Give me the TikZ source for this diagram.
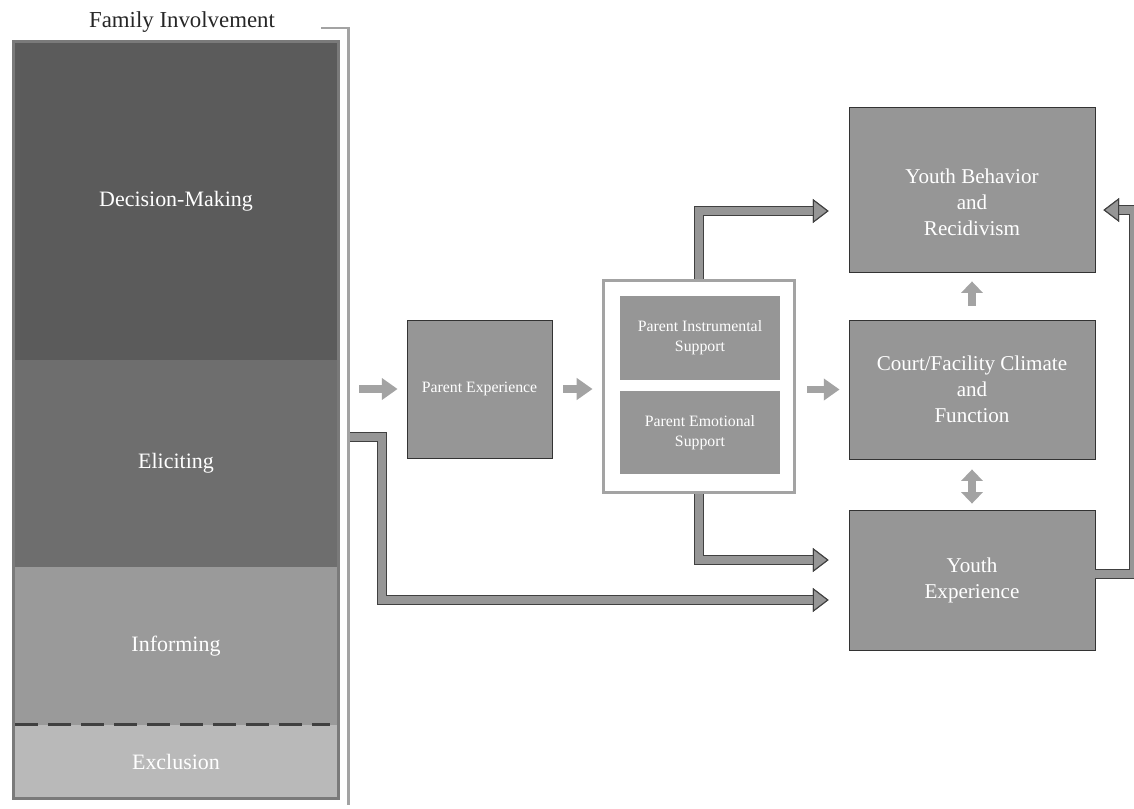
\documentclass[tikz,border=0pt]{standalone}
\usepackage{fontspec}
\setmainfont{Liberation Serif}
\usepackage{tikz}
\usetikzlibrary{positioning, arrows.meta}
\usepackage{xcolor}

\definecolor{dmgray}{HTML}{5B5B5B}
\definecolor{elgray}{HTML}{6E6E6E}
\definecolor{infgray}{HTML}{9A9A9A}
\definecolor{exgray}{HTML}{B9B9B9}
\definecolor{boxgray}{HTML}{969696}
\definecolor{rulegray}{HTML}{A3A3A3}
\definecolor{edgegray}{HTML}{7A7A7A}

\tikzset{
  level/.style={rectangle, minimum width=6.52cm, inner sep=0pt, outer sep=0pt,
    text=white, font=\fontsize{12.5}{15}\selectfont},
  box/.style={rectangle, draw=black!80, line width=0.5pt, fill=boxgray,
    text=white, align=center},
  bigbox/.style={box, minimum width=4.92cm, font=\fontsize{12}{14.8}\selectfont},
  smallbox/.style={box, font=\fontsize{9}{11.4}\selectfont},
  gaparrow/.style={draw=rulegray, line width=4pt,
    -{Triangle[length=9pt,width=12pt]}, shorten <=0.22cm, shorten >=0.18cm},
  vertarrow/.style={draw=rulegray, line width=4.4pt,
    -{Triangle[length=6.5pt,width=12pt]}},
  flow/.style={draw=boxgray, line width=4pt,
    preaction={draw=black!75, line width=5.2pt},
    -{Triangle[length=9pt,width=13.6pt,line width=0.6pt,color=black!75,fill=boxgray]}},
}

\begin{document}
\begin{tikzpicture}[x=0.02cm, y=-0.02cm]
  \useasboundingbox (0,0) rectangle (1134,809);

  % Levels of family involvement
  \node[level, fill=dmgray, minimum height=6.37cm] (dm) at (176,200.75) {Decision-Making};
  \node[level, fill=elgray, minimum height=4.14cm, below=0pt of dm] (el) {Eliciting};
  \node[level, fill=infgray, minimum height=3.16cm, below=0pt of el] (inf) {Informing};
  \node[level, fill=exgray, minimum height=1.47cm, below=0pt of inf] (exc) {Exclusion};
  \draw[edgegray, line width=1.7pt] (dm.north west) rectangle (exc.south east);
  \draw[black!75, line width=1.6pt, dash pattern=on 0.46cm off 0.2cm]
    ([xshift=0.04cm]exc.north west) -- ([xshift=-0.18cm]exc.north east);

  % Title and bracket
  \node[font=\fontsize{13}{15}\selectfont, text=black!85] (title) at (182,22) {Family Involvement};
  \coordinate (brTop) at (321,28);
  \coordinate (brBot) at (348.5,805);
  \draw[rulegray, line width=1.6pt] (brTop) -| (brBot);

  % Parent side
  \node[smallbox, minimum width=2.9cm, minimum height=2.76cm] (pe) at (479.5,389) {Parent Experience};
  \node[draw=rulegray, line width=1.7pt, fill=white, minimum width=3.84cm,
    minimum height=4.26cm] (supbox) at (699,386.5) {};
  \node[smallbox, draw=none, minimum width=3.2cm, minimum height=1.68cm] (pis) at (700,338)
    {Parent Instrumental\\Support};
  \node[smallbox, draw=none, minimum width=3.2cm, minimum height=1.66cm] (pes) at (700,432.5)
    {Parent Emotional\\Support};

  % Youth and court side
  \node[bigbox, minimum height=3.3cm] (ybr) at (972,189.5) {};
  \node[text=white, align=center, font=\fontsize{12}{14.8}\selectfont] (ybrtext) at (972,202)
    {Youth Behavior\\and\\Recidivism};
  \node[bigbox, minimum height=2.78cm] (court) at (972,389.5) {Court/Facility Climate\\and\\Function};
  \node[bigbox, minimum height=2.8cm] (yexp) at (972,580) {Youth\\Experience};

  % Short arrows
  \draw[gaparrow] (brBot |- pe) -- (pe);
  \draw[gaparrow] (pe) -- (pe -| supbox.west);
  \draw[gaparrow] (supbox.east |- court) -- (court);
  \draw[vertarrow, shorten <=0.28cm, shorten >=0.18cm] (court) -- (ybr);
  \draw[vertarrow, {Triangle[length=6.5pt,width=12pt]}-{Triangle[length=6.5pt,width=12pt]},
    shorten <=0.2cm, shorten >=0.12cm] (court) -- (yexp);

  % Bent flows
  \coordinate (famOut) at (350,437);
  \draw[flow, shorten >=0.4cm] (supbox.north) |- ([yshift=-0.43cm]ybr.west);
  \draw[flow, shorten >=0.4cm] (supbox.south) |- ([yshift=0.4cm]yexp.west);
  \draw[flow, shorten >=0.4cm] (famOut) -- ++(32,0) |- ([yshift=-0.4cm]yexp.west);
  \draw[flow, shorten >=0.16cm] ([yshift=0.12cm]yexp.east) -- ++(38.5,0) |- ([yshift=-0.41cm]ybr.east);
\end{tikzpicture}
\end{document}
